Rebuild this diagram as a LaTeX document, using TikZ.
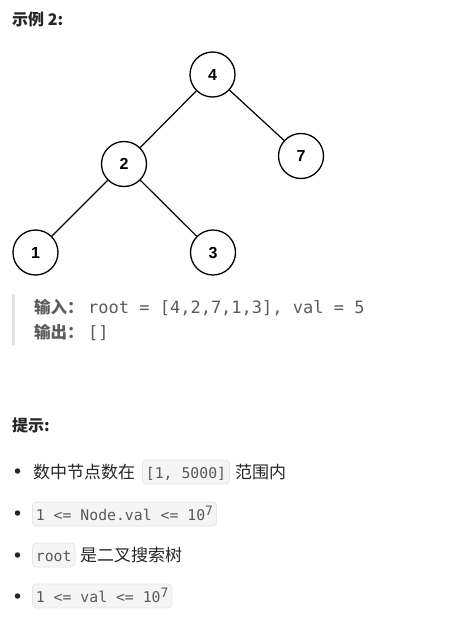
\documentclass[tikz,border=0pt]{standalone}
\usepackage{fontspec}
\setmainfont{Liberation Sans}
\newfontfamily\cjk{Noto Sans CJK SC}
\newfontfamily\monoq{DejaVu Sans Mono}
\definecolor{maintext}{HTML}{262626}
\definecolor{quotetext}{HTML}{5C5C5C}
\definecolor{quotebar}{HTML}{E3E3E3}
\definecolor{codefill}{HTML}{F5F5F5}
\definecolor{codeborder}{HTML}{E6E6E6}
\definecolor{codetext}{HTML}{595959}
\begin{document}
\begin{tikzpicture}[x=1pt,y=-1pt,
  treenode/.style={circle,draw=black,line width=1.3pt,minimum size=45pt,inner sep=0pt,font=\fontsize{16}{16}\selectfont\bfseries},
  edge/.style={draw=black,line width=1.2pt},
  heading/.style={anchor=base west,inner sep=0pt,text=maintext,font=\fontsize{16}{16}\selectfont\cjk\bfseries},
  quoteline/.style={anchor=base west,inner sep=0pt,text=quotetext,font=\fontsize{17}{17}\selectfont\monoq},
  quotelabel/.style={anchor=base west,inner sep=0pt,text=quotetext,font=\fontsize{16.5}{16.5}\selectfont\cjk\bfseries},
  bodytext/.style={anchor=base west,inner sep=0pt,text=maintext,font=\fontsize{17}{17}\selectfont\cjk},
  codebox/.style={anchor=base west,draw=codeborder,fill=codefill,rounded corners=4pt,line width=0.8pt,
    inner xsep=3.5pt,inner ysep=2pt,text height=16pt,text depth=4pt,text=codetext,
    font=\fontsize{14.8}{14.8}\selectfont\monoq},
  bulletdot/.style={circle,fill=maintext,inner sep=0pt,minimum size=5.5pt}
]
\useasboundingbox (0,0) rectangle (476,624);
\fill[white] (0,0) rectangle (476,624);

% title
\node[heading] (title) at (12,25) {示例 2:};

% tree
\node[treenode] (n4) at (212.5,74.5) {4};
\node[treenode] (n7) at (301,156) {7};
\node[treenode] (n2) at (124,164) {2};
\node[treenode] (n1) at (35.5,252.5) {1};
\node[treenode] (n3) at (213,252.5) {3};
\draw[edge] (n4) -- (n2);
\draw[edge] (n4) -- (n7);
\draw[edge] (n2) -- (n1);
\draw[edge] (n2) -- (n3);

% quote block
\coordinate (qbt) at (13.5,294);
\coordinate (qbb) at (13.5,345);
\draw[quotebar,line width=2.5pt] (qbt) -- (qbb);
\node[quotelabel] (inlab) at (34,313) {输入：};
\node[quoteline] (intext) at (88,313) {root = [4,2,7,1,3], val = 5};
\node[quotelabel] (outlab) at (34,338) {输出：};
\node[quoteline] (outtext) at (88,338) {[]};

% hints
\node[heading] (hint) at (12,431) {提示:};

\node[bulletdot] (b1) at (17.5,471) {};
\node[bodytext] (t1a) at (33,478) {数中节点数在};
\node[codebox] (c1) at (142,478) {[1, 5000]};
\node[bodytext] (t1b) at (235,478) {范围内};

\node[bulletdot] (b2) at (17.5,513) {};
\node[codebox] (c2) at (32,520) {1 <= Node.val <= 10\raisebox{5pt}{\fontsize{13}{13}\selectfont 7}};

\node[bulletdot] (b3) at (17.5,555) {};
\node[codebox] (c3) at (32,561) {root};
\node[bodytext] (t3) at (80,561) {是二叉搜索树};

\node[bulletdot] (b4) at (17.5,596) {};
\node[codebox] (c4) at (32,602) {1 <= val <= 10\raisebox{5pt}{\fontsize{13}{13}\selectfont 7}};
\end{tikzpicture}
\end{document}
